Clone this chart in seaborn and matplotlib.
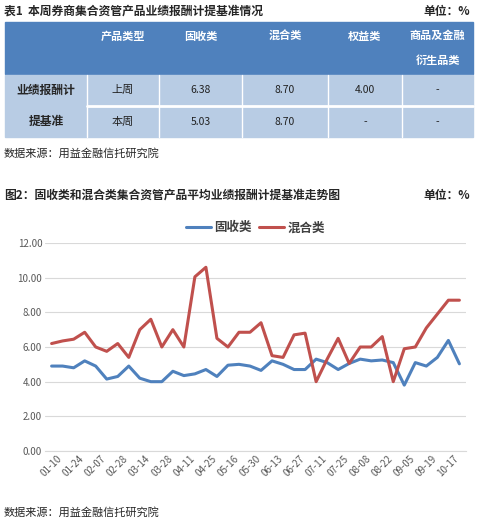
import pandas as pd
import matplotlib.pyplot as plt
import seaborn as sns
from matplotlib.patches import Rectangle

# table data
tbl_cols = ['产品类型', '固收类', '混合类', '权益类', '商品及金融\n衍生品类']
last_week = ['上周', '6.38', '8.70', '4.00', '-']
this_week = ['本周', '5.03', '8.70', '-', '-']

# chart data
dates = ['01-10', '01-17', '01-24', '01-31', '02-07', '02-14', '02-28', '03-07',
         '03-14', '03-21', '03-28', '04-04', '04-11', '04-18', '04-25', '05-09',
         '05-16', '05-23', '05-30', '06-06', '06-13', '06-20', '06-27', '07-04',
         '07-11', '07-18', '07-25', '08-01', '08-08', '08-15', '08-22', '08-29',
         '09-05', '09-12', '09-19', '09-26', '10-17', '10-24']
fixed_income = [4.9, 4.9, 4.8, 5.2, 4.9, 4.15, 4.3, 4.9, 4.2, 4.0, 4.0, 4.6, 4.35,
                4.45, 4.7, 4.3, 4.95, 5.0, 4.9, 4.65, 5.2, 5.0, 4.7, 4.7, 5.3, 5.1,
                4.7, 5.05, 5.3, 5.2, 5.25, 5.1, 3.8, 5.1, 4.9, 5.4, 6.38, 5.03]
mixed = [6.2, 6.35, 6.45, 6.85, 6.0, 5.75, 6.2, 5.4, 7.0, 7.6, 6.0, 7.0, 6.0,
         10.05, 10.6, 6.5, 6.0, 6.85, 6.85, 7.4, 5.5, 5.4, 6.7, 6.8, 4.0, 5.3,
         6.5, 5.05, 6.0, 6.0, 6.6, 4.0, 5.9, 6.0, 7.1, 7.9, 8.7, 8.7]

sns.set_style('white')
plt.rcParams['font.family'] = ['Noto Sans CJK SC', 'DejaVu Sans']

W, H = 483, 521
fig = plt.figure(figsize=(W / 100, H / 100), dpi=100)

# ---- table drawn in pixel coords
bg = fig.add_axes([0, 0, 1, 1])
bg.set_xlim(0, W)
bg.set_ylim(H, 0)
bg.axis('off')

bg.text(4, 11, '表1  本周券商集合资管产品业绩报酬计提基准情况', fontsize=8.5,
        fontweight='bold', va='center')
bg.text(470, 11, '单位：%', fontsize=8.5, fontweight='bold', va='center', ha='right')

xs = [5, 87, 159, 242, 328, 402, 473]
bg.add_patch(Rectangle((5, 22), 468, 52, color='#4F81BD'))
for i, name in enumerate(tbl_cols):
    cx = (xs[i + 1] + xs[i + 2]) / 2
    bg.text(cx, 36 if '\n' not in name else 48, name, color='white', fontsize=8,
            fontweight='bold', ha='center', va='center', linespacing=2.2)

rows_y = [(75, 105), (107, 137)]
bg.add_patch(Rectangle((5, 75), 468, 62, color='#B8CCE4'))
bg.plot([87, 473], [106, 106], color='white', lw=2)
for x in xs[1:-1]:
    bg.plot([x, x], [75, 137], color='white', lw=1)
bg.text(46, 90, '业绩报酬计', fontsize=8.5, fontweight='bold', ha='center', va='center')
bg.text(46, 121, '提基准', fontsize=8.5, fontweight='bold', ha='center', va='center')
for (y0, y1), row in zip(rows_y, [last_week, this_week]):
    for i, v in enumerate(row):
        cx = (xs[i + 1] + xs[i + 2]) / 2
        bg.text(cx, (y0 + y1) / 2, v, fontsize=8 if i == 0 else 7.5,
                ha='center', va='center', color='#222222')
bg.text(4, 153, '数据来源：用益金融信托研究院', fontsize=8, va='center')

bg.text(4, 195, '图2：固收类和混合类集合资管产品平均业绩报酬计提基准走势图', fontsize=8.5,
        fontweight='bold', va='center')
bg.text(470, 195, '单位：%', fontsize=8.5, fontweight='bold', va='center', ha='right')
bg.text(4, 512, '数据来源：用益金融信托研究院', fontsize=8, va='center')

# ---- line chart
ax = fig.add_axes([45 / W, 1 - 451 / H, 421 / W, 208 / H])
df = pd.DataFrame({'x': range(len(dates)), '固收类': fixed_income, '混合类': mixed})
sns.lineplot(data=df, x='x', y='固收类', ax=ax, color='#4F81BD', lw=2.2, label='固收类')
sns.lineplot(data=df, x='x', y='混合类', ax=ax, color='#C0504D', lw=2.2, label='混合类')
ax.set_xlim(-0.6, len(dates) - 0.4)
ax.set_ylim(0, 12)
ax.set_yticks(range(0, 13, 2))
ax.set_yticklabels([f'{v:.2f}' for v in range(0, 13, 2)], fontsize=7, color='#595959')
ax.set_xticks(range(0, len(dates), 2))
ax.set_xticklabels(dates[::2], rotation=45, fontsize=7, color='#595959')
ax.set_xlabel('')
ax.set_ylabel('')
ax.grid(axis='y', color='#D9D9D9', lw=0.8)
for s in ['top', 'right', 'left']:
    ax.spines[s].set_visible(False)
ax.spines['bottom'].set_color('#D9D9D9')
ax.tick_params(length=0, pad=2)
leg = ax.legend(loc='lower center', bbox_to_anchor=(0.5, 1.0), ncol=2, frameon=False,
                fontsize=9, handlelength=2.0, handletextpad=0.3, columnspacing=0.6,
                borderaxespad=0.3)
for t in leg.get_texts():
    t.set_color('#404040')
    t.set_fontweight('bold')

fig.savefig('out.png', dpi=100)
